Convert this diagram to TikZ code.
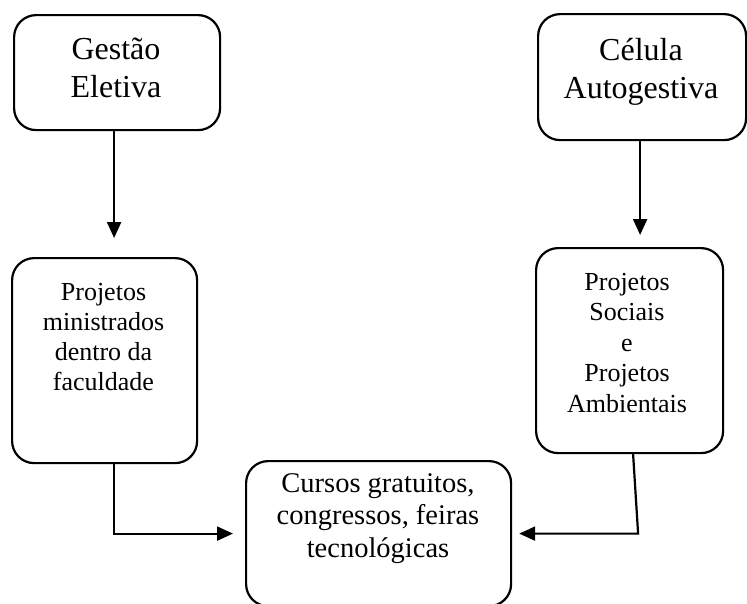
\documentclass[tikz,border=0pt]{standalone}
\usepackage{fontspec}
\setmainfont{Liberation Serif}
\usetikzlibrary{arrows.meta}
\begin{document}
\begin{tikzpicture}[x=1pt,y=-1pt,line width=2.2pt,
  box/.style={draw,rounded corners=22pt,anchor=north west,inner sep=0pt},
  txt/.style={anchor=base,align=center,inner sep=0pt},
  arr/.style={-{Triangle[length=16pt,width=14pt]}}]
\useasboundingbox (0,0) rectangle (747,603);
\node[box,minimum width=206pt,minimum height=115pt] (gestao) at (13,14) {};
\node[box,minimum width=208pt,minimum height=126pt] (celula) at (537,13) {};
\node[box,minimum width=185pt,minimum height=205pt] (projfac) at (11,257) {};
\node[box,minimum width=187pt,minimum height=205pt] (projsoc) at (535,247) {};
\node[box,minimum width=265pt,minimum height=145pt] (cursos) at (245,460) {};
% base = baseline of the last line
\node[txt,font=\fontsize{32}{38}\selectfont] (tgestao) at (116,97) {Gestão\\Eletiva};
\node[txt,font=\fontsize{32}{38}\selectfont] (tcelula) at (641,98) {Célula\\Autogestiva};
\node[txt,font=\fontsize{26}{30}\selectfont] (tprojfac) at (103.5,390) {Projetos\\ministrados\\dentro da\\faculdade};
\node[txt,font=\fontsize{26}{30.5}\selectfont] (tprojsoc) at (627,412) {Projetos\\Sociais\\e\\Projetos\\Ambientais};
\node[txt,font=\fontsize{28.5}{32.5}\selectfont] (tcursos) at (378,557) {Cursos gratuitos,\\congressos, feiras\\tecnológicas};
\draw[arr,shorten >=19pt] ([xshift=-3pt]gestao.south) -- ([xshift=9.5pt]projfac.north);
\draw[arr,shorten >=12pt] ([xshift=-2pt]celula.south) -- ([xshift=10.5pt]projsoc.north);
\draw[arr,shorten >=12pt] ([xshift=9.5pt]projfac.south) |- (cursos.west);
\draw[arr,shorten >=7pt] ([xshift=3.5pt]projsoc.south) -- ([xshift=8.5pt]projsoc.south |- cursos.east) -- (cursos.east);
\end{tikzpicture}
\end{document}
